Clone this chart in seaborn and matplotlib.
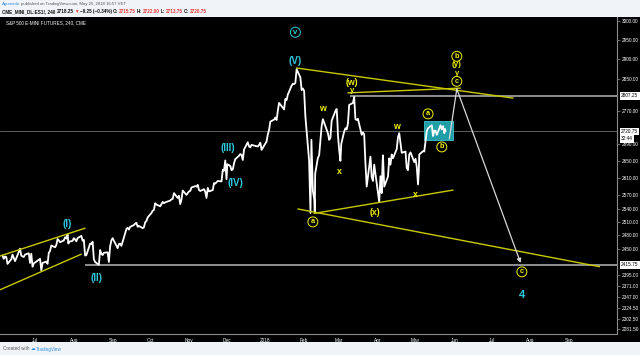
import matplotlib
matplotlib.use("Agg")
import matplotlib.pyplot as plt
import matplotlib.dates as mdates
from matplotlib.patches import Rectangle
from matplotlib.ticker import FixedLocator, NullLocator, FuncFormatter
import seaborn as sns
import pandas as pd

# ---- price series (ES1!) ----
price_dates = [
    "2017-06-05", "2017-06-06", "2017-06-07", "2017-06-08", "2017-06-09", "2017-06-12", "2017-06-13", "2017-06-14", "2017-06-15", "2017-06-16", "2017-06-19", "2017-06-20", "2017-06-21", "2017-06-22", "2017-06-23", "2017-06-26", "2017-06-27", "2017-06-28", "2017-06-29", "2017-06-30",
    "2017-07-03", "2017-07-05", "2017-07-06", "2017-07-07", "2017-07-10", "2017-07-11", "2017-07-12", "2017-07-13", "2017-07-14", "2017-07-17", "2017-07-18", "2017-07-19", "2017-07-20", "2017-07-21", "2017-07-24", "2017-07-25", "2017-07-26", "2017-07-27", "2017-07-27 16:00", "2017-07-28", "2017-07-31",
    "2017-08-01", "2017-08-02", "2017-08-03", "2017-08-04", "2017-08-07", "2017-08-08", "2017-08-09", "2017-08-10", "2017-08-11", "2017-08-14", "2017-08-15", "2017-08-16", "2017-08-17", "2017-08-18", "2017-08-21", "2017-08-22", "2017-08-23", "2017-08-24", "2017-08-25", "2017-08-28", "2017-08-29", "2017-08-29 16:00", "2017-08-30", "2017-08-31",
    "2017-09-01", "2017-09-05", "2017-09-06", "2017-09-07", "2017-09-08", "2017-09-11", "2017-09-12", "2017-09-13", "2017-09-14", "2017-09-15", "2017-09-18", "2017-09-19", "2017-09-20", "2017-09-21", "2017-09-22", "2017-09-25", "2017-09-26", "2017-09-27", "2017-09-28", "2017-09-29",
    "2017-10-02", "2017-10-03", "2017-10-04", "2017-10-05", "2017-10-06", "2017-10-09", "2017-10-10", "2017-10-11", "2017-10-12", "2017-10-13", "2017-10-16", "2017-10-17", "2017-10-18", "2017-10-19", "2017-10-20", "2017-10-23", "2017-10-24", "2017-10-25", "2017-10-26", "2017-10-27", "2017-10-30", "2017-10-31",
    "2017-11-01", "2017-11-02", "2017-11-03", "2017-11-06", "2017-11-07", "2017-11-08", "2017-11-09", "2017-11-10", "2017-11-13", "2017-11-14", "2017-11-15", "2017-11-16", "2017-11-17", "2017-11-20", "2017-11-21", "2017-11-22", "2017-11-24", "2017-11-27", "2017-11-28", "2017-11-29", "2017-11-30",
    "2017-12-01", "2017-12-01 16:00", "2017-12-04", "2017-12-05", "2017-12-06", "2017-12-07", "2017-12-08", "2017-12-11", "2017-12-12", "2017-12-13", "2017-12-14", "2017-12-15", "2017-12-18", "2017-12-19", "2017-12-20", "2017-12-21", "2017-12-22", "2017-12-26", "2017-12-27", "2017-12-28", "2017-12-29",
    "2018-01-02", "2018-01-03", "2018-01-04", "2018-01-05", "2018-01-08", "2018-01-09", "2018-01-10", "2018-01-11", "2018-01-12", "2018-01-16", "2018-01-17", "2018-01-18", "2018-01-19", "2018-01-22", "2018-01-23", "2018-01-24", "2018-01-25", "2018-01-26", "2018-01-29", "2018-01-30", "2018-01-31",
    "2018-02-01", "2018-02-02", "2018-02-05", "2018-02-06 02:00", "2018-02-06 20:00", "2018-02-07", "2018-02-08", "2018-02-09 04:00", "2018-02-09 12:00", "2018-02-09 20:00", "2018-02-12", "2018-02-13", "2018-02-14", "2018-02-15", "2018-02-16", "2018-02-20", "2018-02-21", "2018-02-22", "2018-02-23", "2018-02-26", "2018-02-27", "2018-02-27 16:00", "2018-02-28",
    "2018-03-01", "2018-03-02", "2018-03-02 16:00", "2018-03-05", "2018-03-06", "2018-03-07", "2018-03-08", "2018-03-09", "2018-03-12", "2018-03-13", "2018-03-13 16:00", "2018-03-14", "2018-03-15", "2018-03-16", "2018-03-19", "2018-03-20", "2018-03-21", "2018-03-22", "2018-03-23", "2018-03-26", "2018-03-27", "2018-03-28", "2018-03-29",
    "2018-04-02", "2018-04-03", "2018-04-04", "2018-04-04 16:00", "2018-04-05", "2018-04-06", "2018-04-09", "2018-04-10", "2018-04-11", "2018-04-12", "2018-04-13", "2018-04-16", "2018-04-17", "2018-04-18", "2018-04-19", "2018-04-20", "2018-04-23", "2018-04-24", "2018-04-25", "2018-04-26", "2018-04-27", "2018-04-30",
    "2018-05-01", "2018-05-02", "2018-05-03", "2018-05-03 16:00", "2018-05-04", "2018-05-07", "2018-05-08", "2018-05-09", "2018-05-10", "2018-05-11", "2018-05-14", "2018-05-15", "2018-05-16", "2018-05-17", "2018-05-18", "2018-05-21", "2018-05-22", "2018-05-23", "2018-05-24", "2018-05-24 16:00", "2018-05-25",
]
price_values = [
    2436, 2429, 2434, 2433, 2418, 2428, 2438, 2431, 2424, 2430, 2451, 2436, 2434, 2433, 2438, 2441, 2420, 2440, 2412, 2419,
    2425, 2429, 2404, 2420, 2423, 2418, 2442, 2446, 2458, 2454, 2459, 2472, 2469, 2465, 2469, 2476, 2473, 2482, 2462, 2466, 2468,
    2474, 2471, 2467, 2474, 2479, 2468, 2470, 2436, 2437, 2462, 2461, 2466, 2428, 2422, 2416, 2448, 2440, 2437, 2442, 2443, 2422, 2446, 2456, 2469,
    2474, 2452, 2461, 2462, 2457, 2485, 2494, 2497, 2493, 2499, 2503, 2506, 2508, 2499, 2501, 2496, 2498, 2509, 2512, 2520,
    2530, 2535, 2537, 2552, 2549, 2545, 2550, 2555, 2552, 2554, 2557, 2558, 2561, 2562, 2575, 2564, 2569, 2550, 2560, 2581, 2571, 2575,
    2579, 2580, 2588, 2591, 2590, 2594, 2582, 2580, 2584, 2578, 2564, 2587, 2579, 2582, 2598, 2597, 2603, 2602, 2629, 2627, 2651,
    2607, 2642, 2638, 2628, 2630, 2644, 2654, 2662, 2666, 2664, 2652, 2677, 2694, 2684, 2682, 2688, 2687, 2684, 2688, 2693, 2676,
    2696, 2713, 2724, 2744, 2749, 2754, 2748, 2771, 2790, 2774, 2800, 2797, 2811, 2833, 2838, 2837, 2840, 2875, 2854, 2822, 2826,
    2820, 2757, 2650, 2530, 2700, 2682, 2580, 2560, 2532, 2620, 2657, 2663, 2699, 2733, 2750, 2716, 2700, 2704, 2746, 2770, 2775, 2740, 2712,
    2676, 2650, 2690, 2720, 2728, 2725, 2739, 2785, 2790, 2805, 2765, 2750, 2748, 2751, 2712, 2718, 2713, 2644, 2590, 2660, 2612, 2603, 2641,
    2555, 2614, 2575, 2644, 2663, 2590, 2613, 2656, 2641, 2665, 2656, 2678, 2706, 2716, 2693, 2669, 2672, 2633, 2628, 2665, 2670, 2647,
    2655, 2636, 2595, 2628, 2665, 2673, 2672, 2697, 2721, 2728, 2735, 2709, 2722, 2722, 2712, 2735, 2725, 2733, 2716, 2726, 2720.75,
]

# projected path drawn by the author
proj_dates = ["2018-05-28", "2018-06-03", "2018-07-24"]
proj_prices = [2702, 2825, 2420]

# consolidation box
box_dates = ["2018-05-08", "2018-05-31"]
box_prices = [2700, 2745]

# yellow trend lines: start date, start price, end date, end price
trend_left_upper = ["2017-06-03", 2435, "2017-08-10", 2496]
trend_left_lower = ["2017-06-03", 2363, "2017-08-07", 2439]
trend_top = ["2018-01-26", 2878, "2018-07-18", 2802]
trend_w = ["2018-03-08", 2815, "2018-06-06", 2827]
trend_bottom = ["2018-01-27", 2539, "2018-09-25", 2412]
trend_x = ["2018-02-09", 2529, "2018-05-31", 2582]

# horizontal levels
level_ii = 2415.75
level_w = 2807.25
last_price = 2720.75

# wave labels
cyan_labels = ["(I)", "(II)", "(III)", "(IV)", "(V)", "4"]
cyan_dates = ["2017-07-27", "2017-08-19", "2017-12-02", "2017-12-08", "2018-01-25", "2018-07-25"]
cyan_prices = [2505, 2388, 2680, 2598, 2896, 2352]

yellow_labels = ["w", "x", "(w)", "y", "(x)", "w", "x", "(y)", "y"]
yellow_dates = ["2018-02-16", "2018-03-01", "2018-03-11", "2018-03-11", "2018-03-30", "2018-04-16", "2018-05-01", "2018-06-03", "2018-06-03"]
yellow_prices = [2777, 2624, 2842, 2822, 2532, 2733, 2571, 2886, 2865]
yellow_sizes = [6.3, 6.3, 6.3, 5.6, 6.3, 6.3, 6.3, 5.8, 5.4]

circle_labels = ["a", "a", "b", "b", "c", "c"]
circle_dates = ["2018-02-08", "2018-05-11", "2018-05-22", "2018-06-03", "2018-06-03", "2018-07-25"]
circle_prices = [2510, 2763, 2683, 2908, 2844, 2401]

ytick_values = [3000, 2950, 2900, 2850, 2770, 2690, 2650, 2610, 2570, 2540, 2510,
                2480, 2450, 2395, 2371, 2347, 2324.5, 2302.5, 2281.5]
month_ticks = ["2017-07-01", "2017-08-01", "2017-09-01", "2017-10-01", "2017-11-01",
               "2017-12-01", "2018-01-01", "2018-02-01", "2018-03-01", "2018-04-01",
               "2018-05-01", "2018-06-01", "2018-07-01", "2018-08-01", "2018-09-01"]

# ---- style ----
sns.set_theme(style="dark")
plt.rcParams['font.family'] = ['Liberation Sans', 'DejaVu Sans']

YEL_LINE = "#c9c900"
YEL_TXT = "#f2f200"
CYAN = "#2ec8dc"
BG = "#f0f3f8"
W, H = 640, 355


def d(s):
    return mdates.date2num(pd.Timestamp(s))


fig = plt.figure(figsize=(6.4, 3.55), dpi=100)
fig.patch.set_facecolor(BG)
# black chart panel incl. both scales
fig.patches.append(Rectangle((0, 1 - 342 / H), 1, (342 - 17) / H, transform=fig.transFigure,
                             facecolor="black", edgecolor="none", zorder=-5))

ax = fig.add_axes([0, 1 - 334 / H, 617 / W, (334 - 17) / H])
ax.set_zorder(2)
ax.set_facecolor("black")

df = pd.DataFrame({"date": pd.to_datetime(price_dates, format="mixed"), "price": price_values})
sns.lineplot(data=df, x="date", y="price", ax=ax, color="white", linewidth=1.3, zorder=5)

ax.set_yscale("log")
ax.set_ylim(2271.9, 3011.5)
ax.set_xlim(d("2017-06-03"), d("2018-10-09"))

# horizontal levels
ax.axhline(last_price, color="#6b6b6b", lw=0.6, zorder=2)
ax.hlines(level_ii, d("2017-08-10"), d("2018-10-09"), color="#a8a8a8", lw=1.2, zorder=3)
ax.hlines(level_w, d("2018-03-10"), d("2018-10-09"), color="#a8a8a8", lw=1.2, zorder=3)

# consolidation box
ax.add_patch(Rectangle((d(box_dates[0]), box_prices[0]), d(box_dates[1]) - d(box_dates[0]),
                       box_prices[1] - box_prices[0], facecolor="#1f9ea8", edgecolor="#3cc3cc",
                       lw=0.6, zorder=4))

# trend lines
for t in [trend_left_upper, trend_left_lower, trend_top, trend_w, trend_bottom, trend_x]:
    ax.plot([d(t[0]), d(t[2])], [t[1], t[3]], color=YEL_LINE, lw=1.0, zorder=6)

# projection
pd_num = [d(s) for s in proj_dates]
ax.plot(pd_num[:2], proj_prices[:2], color="#d8d8d8", lw=0.9, zorder=6)
ax.annotate("", xy=(pd_num[2], proj_prices[2]), xytext=(pd_num[1], proj_prices[1]),
            arrowprops=dict(arrowstyle="-|>", color="#d8d8d8", lw=0.9,
                            mutation_scale=6, shrinkA=0, shrinkB=0), zorder=6)

# labels
for s, dt, p in zip(cyan_labels, cyan_dates, cyan_prices):
    ax.text(d(dt), p, s, color=CYAN, fontsize=7 if s != "4" else 8, fontweight="bold",
            ha="center", va="center", zorder=8)
ax.text(d("2018-01-25"), 2971, "v", color=CYAN, fontsize=5.5, fontweight="bold",
        ha="center", va="center", zorder=8,
        bbox=dict(boxstyle="circle,pad=0.2", fc="black", ec=CYAN, lw=0.7))
for s, dt, p, fs in zip(yellow_labels, yellow_dates, yellow_prices, yellow_sizes):
    ax.text(d(dt), p, s, color=YEL_TXT, fontsize=fs, fontweight="bold",
            ha="center", va="center", zorder=8)
for s, dt, p in zip(circle_labels, circle_dates, circle_prices):
    ax.text(d(dt), p, s, color=YEL_TXT, fontsize=5.3, fontweight="bold",
            ha="center", va="center", zorder=8,
            bbox=dict(boxstyle="circle,pad=0.2", fc="black", ec=YEL_TXT, lw=0.7))

# axes cosmetics
for side in ["top", "left"]:
    ax.spines[side].set_visible(False)
for side in ["right", "bottom"]:
    ax.spines[side].set_color("#8c8c8c")
    ax.spines[side].set_linewidth(0.8)
ax.grid(False)
ax.set_xlabel("")
ax.set_ylabel("")

ax.yaxis.set_major_locator(FixedLocator(ytick_values))
ax.yaxis.set_minor_locator(NullLocator())
ax.yaxis.set_major_formatter(FuncFormatter(lambda v, _: f"{v:.2f}"))
ax.yaxis.tick_right()
ax.tick_params(axis="y", colors="#8c8c8c", labelcolor="white", labelsize=3.4,
               length=2, width=0.5, pad=1.5)

ax.xaxis.set_major_locator(FixedLocator([d(m) for m in month_ticks]))
ax.xaxis.set_minor_locator(NullLocator())
ax.set_xticklabels(["2018" if m.endswith("01-01") else pd.Timestamp(m).strftime("%b")
                    for m in month_ticks])
ax.tick_params(axis="x", colors="#8c8c8c", labelcolor="white", labelsize=3.4,
               length=2, width=0.5, pad=1)


# value tags on the price scale
def tag(price, text, y_off=0):
    ax.annotate(text, xy=(1, price), xycoords=("axes fraction", "data"),
                xytext=(3, y_off), textcoords="offset points", fontsize=3.4,
                color="black", ha="left", va="center", zorder=10, annotation_clip=False,
                bbox=dict(boxstyle="square,pad=0.25", fc="white", ec="none"))


tag(level_w, "2807.25")
tag(last_price, "2720.75")
tag(last_price, "32:44", y_off=-5.5)
tag(level_ii, "2415.75")

# chart title
fig.text(6 / W, 1 - 23 / H, "S&P 500 E-MINI FUTURES, 240, CME", color="white",
         fontsize=3.3, ha="left", va="center", zorder=5)

# header lines built from coloured pieces
renderer = fig.canvas.get_renderer()


def pieces(x_px, y_px, parts, size, weight="normal"):
    x = x_px
    for s, c in parts:
        t = fig.text(x / W, 1 - y_px / H, s, color=c, fontsize=size, fontweight=weight,
                     ha="left", va="center", zorder=5)
        x += t.get_window_extent(renderer=renderer).width + 1.0


pieces(2, 4.5, [("Agranado", "#2f8fdc"),
                ("published on TradingView.com, May 25, 2018 16:57 VET", "#555555")], 3.1)
pieces(2, 11.5, [("CME_MINI_DL:ES1!, 240", "#111111"), ("2718.25", "#111111"),
                 ("▼", "#e53935"), ("−9.25 (−0.34%)", "#111111"), ("O:", "#111111"),
                 ("2715.75", "#e53935"), ("H:", "#111111"), ("2722.00", "#e53935"),
                 ("L:", "#111111"), ("2713.75", "#e53935"), ("C:", "#111111"),
                 ("2720.75", "#e53935")], 3.3, "bold")
pieces(3, 349, [("Created with", "#555555"), ("☁", "#2f8fdc"), ("TradingView", "#2f8fdc")], 3.3)

fig.savefig("out.png", dpi=100, facecolor=fig.get_facecolor())
